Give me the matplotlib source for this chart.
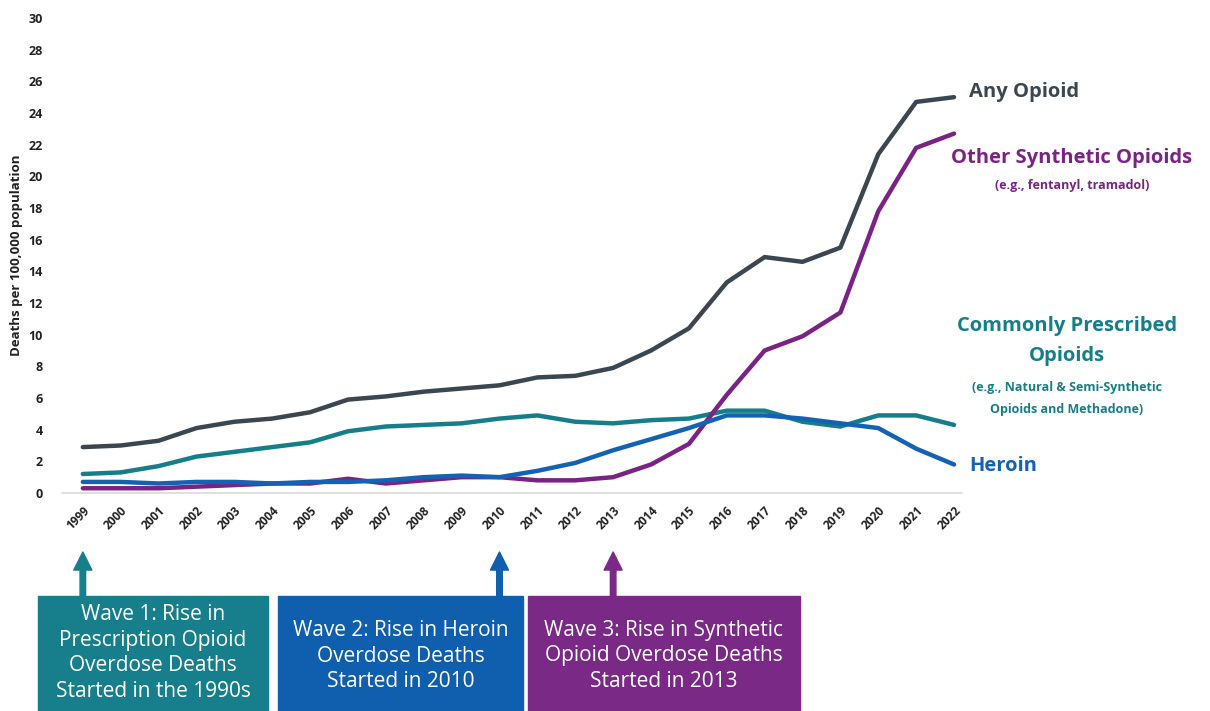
import matplotlib
matplotlib.use("Agg")
import matplotlib.pyplot as plt
from matplotlib.patches import Rectangle

# ############ Datos (tasas por 100.000 habitantes)
years = list(range(1999, 2023))
any_opioid = [2.9, 3.0, 3.3, 4.1, 4.5, 4.7, 5.1, 5.9, 6.1, 6.4, 6.6, 6.8,
              7.3, 7.4, 7.9, 9.0, 10.4, 13.3, 14.9, 14.6, 15.5, 21.4, 24.7, 25.0]
synthetic = [0.3, 0.3, 0.3, 0.4, 0.5, 0.6, 0.6, 0.9, 0.6, 0.8, 1.0, 1.0,
             0.8, 0.8, 1.0, 1.8, 3.1, 6.2, 9.0, 9.9, 11.4, 17.8, 21.8, 22.7]
prescribed = [1.2, 1.3, 1.7, 2.3, 2.6, 2.9, 3.2, 3.9, 4.2, 4.3, 4.4, 4.7,
              4.9, 4.5, 4.4, 4.6, 4.7, 5.2, 5.2, 4.5, 4.2, 4.9, 4.9, 4.3]
heroin = [0.7, 0.7, 0.6, 0.7, 0.7, 0.6, 0.7, 0.7, 0.8, 1.0, 1.1, 1.0,
          1.4, 1.9, 2.7, 3.4, 4.1, 4.9, 4.9, 4.7, 4.4, 4.1, 2.8, 1.8]
y_ticks = list(range(0, 31, 2))

wave_years = [1999, 2010, 2013]
wave_texts = ["Wave 1: Rise in\nPrescription Opioid\nOverdose Deaths\nStarted in the 1990s",
              "Wave 2: Rise in Heroin\nOverdose Deaths\nStarted in 2010",
              "Wave 3: Rise in Synthetic\nOpioid Overdose Deaths\nStarted in 2013"]

# ############ Colores
C_ANY = "#3b4750"
C_SYN = "#7a2385"
C_PRE = "#167e89"
C_HER = "#1462b4"
BOX_COLORS = ["#177f8c", "#0f5fae", "#7a2a86"]

plt.rcParams['font.family'] = ['Open Sans', 'DejaVu Sans']

W, H = 1210, 711
fig = plt.figure(figsize=(W / 100, H / 100), dpi=100)

def fx(px):
    return px / W

def fy(py):
    return 1 - py / H

ax = fig.add_axes([fx(62), fy(493), fx(962) - fx(62), fy(18) - fy(493)])

lw = 3.2
ax.plot(years, prescribed, color=C_PRE, lw=lw, solid_capstyle='round', zorder=2)
ax.plot(years, synthetic, color=C_SYN, lw=lw, solid_capstyle='round', zorder=3)
ax.plot(years, heroin, color=C_HER, lw=lw, solid_capstyle='round', zorder=4)
ax.plot(years, any_opioid, color=C_ANY, lw=lw, solid_capstyle='round', zorder=5)

ax.set_xlim(1998.45, 2022.21)
ax.set_ylim(0, 30)
ax.set_yticks(y_ticks)
ax.set_xticks(years)
ax.set_xticklabels([str(y) for y in years], rotation=45, ha='right',
                   rotation_mode='anchor', fontsize=8.5, fontweight='bold', color="#222222")
ax.set_yticklabels([str(t) for t in y_ticks], fontsize=9, fontweight='bold', color="#222222")
ax.tick_params(axis='y', length=0, pad=14)
ax.tick_params(axis='x', length=0, pad=8)
for s in ['top', 'right', 'left']:
    ax.spines[s].set_visible(False)
ax.spines['bottom'].set_color("#d9d9d9")
ax.spines['bottom'].set_linewidth(1.2)
ax.set_ylabel("Deaths per 100,000 population", fontsize=9.5, fontweight='bold',
              color="#222222", labelpad=4)

# Etiquetas a la derecha
ax.text(2022.4, any_opioid[-1] + 0.3, "Any Opioid", color=C_ANY, fontsize=14.5,
        fontweight='bold', va='center', ha='left', clip_on=False)
fig.text(fx(1072), fy(158), "Other Synthetic Opioids", color=C_SYN, fontsize=14.5,
         fontweight='bold', ha='center', va='center')
fig.text(fx(1072), fy(186), "(e.g., fentanyl, tramadol)", color=C_SYN, fontsize=9,
         fontweight='bold', ha='center', va='center')
fig.text(fx(1067), fy(326), "Commonly Prescribed", color=C_PRE, fontsize=14.5,
         fontweight='bold', ha='center', va='center')
fig.text(fx(1067), fy(356), "Opioids", color=C_PRE, fontsize=14.5,
         fontweight='bold', ha='center', va='center')
fig.text(fx(1067), fy(387), "(e.g., Natural & Semi-Synthetic", color=C_PRE, fontsize=9,
         fontweight='bold', ha='center', va='center')
fig.text(fx(1067), fy(410), "Opioids and Methadone)", color=C_PRE, fontsize=9,
         fontweight='bold', ha='center', va='center')
ax.text(2022.4, heroin[-1] - 0.1, "Heroin", color=C_HER, fontsize=14.5,
        fontweight='bold', va='center', ha='left', clip_on=False)

# Cajas de las olas
box_x = [(38, 268), (278, 523), (528, 800)]
box_text_y = [653, 656, 656]
box_top = 596
for (x0, x1), ty, txt, col, yr in zip(box_x, box_text_y, wave_texts, BOX_COLORS, wave_years):
    fig.add_artist(Rectangle((fx(x0), 0), fx(x1) - fx(x0), fy(box_top),
                             transform=fig.transFigure, color=col, zorder=1))
    fig.text((fx(x0) + fx(x1)) / 2, fy(ty), txt, color="white", fontsize=15,
             ha='center', va='center', linespacing=1.3, zorder=2)
    ax.annotate("", xy=(yr, fy(552)), xycoords=('data', 'figure fraction'),
                xytext=(yr, fy(box_top + 2)), textcoords=('data', 'figure fraction'),
                arrowprops=dict(arrowstyle="simple,head_width=1.3,head_length=1.3,tail_width=0.4",
                                color=col, shrinkA=0, shrinkB=0),
                annotation_clip=False)

fig.savefig("out.png", dpi=100)
